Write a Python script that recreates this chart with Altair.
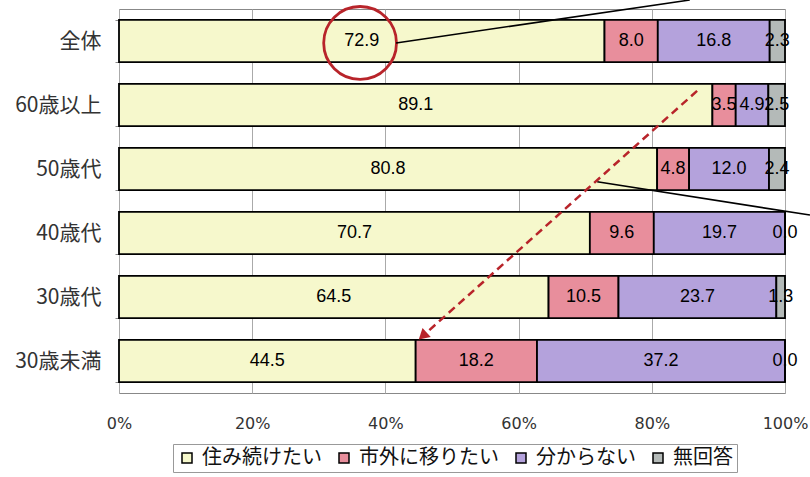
import altair as alt
import pandas as pd

categories = ["全体", "60歳以上", "50歳代", "40歳代", "30歳代", "30歳未満"]
series = ["住み続けたい", "市外に移りたい", "分からない", "無回答"]
stay = [72.9, 89.1, 80.8, 70.7, 64.5, 44.5]
move = [8.0, 3.5, 4.8, 9.6, 10.5, 18.2]
unknown = [16.8, 4.9, 12.0, 19.7, 23.7, 37.2]
no_answer = [2.3, 2.5, 2.4, 0.0, 1.3, 0.0]
colors = ["#F6F8CC", "#E88E9C", "#B4A2DC", "#B4BAB8"]
x_ticks = [0, 0.2, 0.4, 0.6, 0.8, 1.0]

# annotation (hand-drawn marks in the original), in axis units
circle_x = [0.362]
circle_y = [0.53]
line_x = [0.416, 0.718]
line_x2 = [0.857, 1.0375]
line_y = [0.53, 2.70]
line_y2 = [-0.14, 3.22]
arrow_x = [0.868]
arrow_x2 = [0.456]
arrow_y = [1.28]
arrow_y2 = [5.11]

rows = []
for j, (s, vals) in enumerate(zip(series, [stay, move, unknown, no_answer])):
    for c, v in zip(categories, vals):
        rows.append({"cat": c, "series": s, "order": j, "value": v})
df = pd.DataFrame(rows)

RED = "#B8242A"

base = alt.Chart(df).transform_stack(
    stack="value", as_=["x0", "x1"], groupby=["cat"],
    sort=[alt.SortField("order", order="ascending")], offset="normalize"
).transform_calculate(xm="(datum.x0 + datum.x1) / 2")

yscale = alt.Scale(domain=categories, paddingInner=0.34, paddingOuter=0.17)
xscale = alt.Scale(domain=[0, 1], nice=False, zero=False)

xaxis = alt.Axis(title=None, values=x_ticks, format="%",
                 labelFont="DejaVu Sans", labelFontSize=16, labelColor="#333",
                 labelPadding=22, ticks=False, domain=False, grid=True,
                 gridColor="#aaa", gridWidth=1, labelFlush=False)
yaxis = alt.Axis(title=None, labelFont="Noto Sans CJK JP", labelFontSize=21,
                 labelColor="#333", labelPadding=14, tickBand="extent",
                 tickSize=4, tickColor="#888", domain=False, grid=False)

bars = base.mark_bar(stroke="black", strokeWidth=1.8).encode(
    x=alt.X("x0:Q", scale=xscale, axis=xaxis),
    x2="x1:Q",
    y=alt.Y("cat:N", sort=categories, scale=yscale, axis=yaxis),
    color=alt.Color("series:N", scale=alt.Scale(domain=series, range=colors),
                    legend=alt.Legend(title=None, orient="none", direction="horizontal",
                                      legendX=54, legendY=435, symbolType="square",
                                      symbolSize=100, symbolStrokeColor="black",
                                      symbolStrokeWidth=1.5, labelFont="Noto Sans CJK JP",
                                      labelFontSize=20, labelColor="#111",
                                      strokeColor="#999", padding=4, columnPadding=12,
                                      labelOffset=5, fillColor="white")),
)

text = base.mark_text(font="Liberation Sans", fontSize=18, color="black").encode(
    x=alt.X("xm:Q", scale=xscale, axis=xaxis),
    y=alt.Y("cat:N", sort=categories, scale=yscale, axis=yaxis),
    text=alt.Text("value:Q", format=".1f"),
)

yq = alt.Scale(domain=[0, 6], reverse=True, nice=False, zero=False)

circ = alt.Chart(pd.DataFrame({"x": circle_x, "y": circle_y})).mark_point(
    shape="circle", filled=False, size=5300, stroke=RED, strokeWidth=2.8, opacity=1
).encode(x=alt.X("x:Q", scale=xscale, axis=xaxis), y=alt.Y("y:Q", scale=yq, axis=None))

lines = alt.Chart(pd.DataFrame({"x": line_x, "x2": line_x2, "y": line_y, "y2": line_y2})).mark_rule(
    color="black", strokeWidth=1.6
).encode(x=alt.X("x:Q", scale=xscale, axis=xaxis), x2="x2:Q",
         y=alt.Y("y:Q", scale=yq, axis=None), y2="y2:Q")

arrow = alt.Chart(pd.DataFrame({"x": arrow_x, "x2": arrow_x2, "y": arrow_y, "y2": arrow_y2})).mark_rule(
    color=RED, strokeWidth=2.5, strokeDash=[8, 5]
).encode(x=alt.X("x:Q", scale=xscale, axis=xaxis), x2="x2:Q",
         y=alt.Y("y:Q", scale=yq, axis=None), y2="y2:Q")

head = alt.Chart(pd.DataFrame({"x": arrow_x2, "y": arrow_y2})).mark_point(
    shape="triangle-up", filled=True, color=RED, size=150, angle=228, opacity=1
).encode(x=alt.X("x:Q", scale=xscale, axis=xaxis), y=alt.Y("y:Q", scale=yq, axis=None))

chart = alt.layer(
    alt.layer(bars, text),
    alt.layer(circ, lines, arrow, head),
).resolve_scale(y="independent").properties(
    width=666, height=384,
    padding={"left": 119, "top": 9, "right": 25, "bottom": 84},
    autosize=alt.AutoSizeParams(type="none"),
    background="white",
).configure_view(stroke="#888", strokeWidth=1)

chart.save("out.html", embed_options={"renderer": "svg", "actions": False})
